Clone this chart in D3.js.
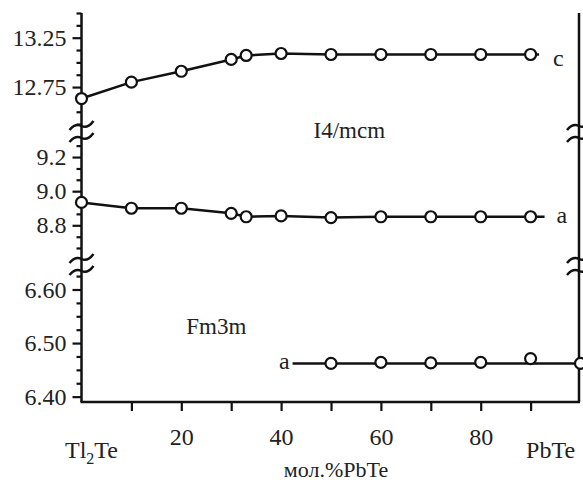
<!DOCTYPE html>
<html>
<head>
<meta charset="utf-8">
<script src="https://cdn.jsdelivr.net/npm/d3@7"></script>
<style>
  body { margin: 0; background: #fff; }
  text { font-family: "Liberation Serif", "DejaVu Serif", serif; fill: #222; }
</style>
</head>
<body>
<div id="chart"></div>
<script>
// Lattice parameters of Tl2Te-PbTe alloys
const compX = [0, 10, 20, 30, 33, 40, 50, 60, 70, 80, 90];
const cTetragonal = [12.634, 12.80, 12.91, 13.03, 13.07, 13.09, 13.08, 13.08, 13.08, 13.08, 13.08];
const aTetragonal = [8.934, 8.90, 8.90, 8.87, 8.85, 8.855, 8.845, 8.85, 8.85, 8.85, 8.85];
const cubicX = [50, 60, 70, 80, 90, 100];
const aCubic = [6.462, 6.464, 6.463, 6.464, 6.471, 6.462];

// where the drawn lines run past the first/last points
const cTailX = 91.7;
const aTailX = 92.8;
const cubicStartX = 42.3;

const xTicks = [10, 20, 30, 40, 50, 60, 70, 80, 90];
const xLabels = [20, 40, 60, 80];

const topMajor = [13.25, 12.75];
const topMinor = [12.375, 12.5, 12.625, 12.875, 13.0, 13.125, 13.375, 13.5];
const midMajor = [9.2, 9.0, 8.8];
const midMinor = [9.267, 9.133, 9.067, 8.933, 8.867, 8.733, 8.667];
const lowMajor = [6.60, 6.50, 6.40];
const lowMinor = [6.625, 6.575, 6.55, 6.525, 6.475, 6.45, 6.425];

const W = 583, H = 482;
const svg = d3.select('#chart').append('svg')
    .attr('width', W)
    .attr('height', H);

const x = d3.scaleLinear().domain([0, 100]).range([81.5, 580.5]);
const axisTop = 13, axisBottom = 402;

// three stacked y scales for the broken axis
const yTop = d3.scaleLinear().domain([12.285, 13.5]).range([133, 13]);
const yMid = d3.scaleLinear().domain([8.62, 9.3]).range([256, 140]);
const yLow = d3.scaleLinear().domain([6.39, 6.67]).range([402, 252]);

const fontSize = 24;

function drawYAxis(scale, major, minor, fmt) {
    const gMinor = svg.append('g')
        .attr('transform', `translate(${x(0)},0)`)
        .call(d3.axisLeft(scale).tickValues(minor).tickSize(5).tickFormat(''));
    gMinor.select('.domain').remove();
    const g = svg.append('g')
        .attr('transform', `translate(${x(0)},0)`)
        .call(d3.axisLeft(scale).tickValues(major).tickSize(9).tickPadding(6).tickFormat(fmt));
    g.select('.domain').remove();
    [gMinor, g].forEach(s => s.selectAll('line').attr('stroke', '#111').attr('stroke-width', 2.2));
    g.selectAll('text')
        .style('font-family', '"Liberation Serif", serif')
        .style('font-size', fontSize + 'px')
        .attr('fill', '#222');
}
drawYAxis(yTop, topMajor, topMinor, d3.format('.2f'));
drawYAxis(yMid, midMajor, midMinor, d3.format('.1f'));
drawYAxis(yLow, lowMajor, lowMinor, d3.format('.2f'));

// frame lines
svg.append('line')
    .attr('x1', x(0)).attr('x2', x(0))
    .attr('y1', axisTop).attr('y2', axisBottom)
    .attr('stroke', '#111').attr('stroke-width', 2.5);
svg.append('line')
    .attr('x1', x(99.7)).attr('x2', x(99.7))
    .attr('y1', axisTop).attr('y2', axisBottom)
    .attr('stroke', '#111').attr('stroke-width', 2.5);

// bottom axis
const gx = svg.append('g')
    .attr('transform', `translate(0,${axisBottom})`)
    .call(d3.axisBottom(x).tickValues(xTicks).tickSize(9).tickPadding(17)
        .tickFormat(d => xLabels.includes(d) ? d : ''));
gx.select('.domain').remove();
gx.selectAll('line').attr('stroke', '#111').attr('stroke-width', 2.2);
gx.selectAll('text')
    .style('font-family', '"Liberation Serif", serif')
    .style('font-size', fontSize + 'px')
    .attr('fill', '#222');
svg.append('line')
    .attr('x1', x(0) - 1).attr('x2', x(99.7) + 1)
    .attr('y1', axisBottom).attr('y2', axisBottom)
    .attr('stroke', '#111').attr('stroke-width', 2.5);

// end-member labels
const tl = svg.append('text')
    .attr('x', x(2)).attr('y', 458)
    .attr('text-anchor', 'middle')
    .style('font-size', fontSize + 'px');
tl.append('tspan').text('Tl');
tl.append('tspan').attr('dy', 6).style('font-size', '16px').text('2');
tl.append('tspan').attr('dy', -6).text('Te');

svg.append('text')
    .attr('x', x(94)).attr('y', 458)
    .attr('text-anchor', 'middle')
    .style('font-size', fontSize + 'px')
    .text('PbTe');

svg.append('text')
    .attr('x', x(51)).attr('y', 477)
    .attr('text-anchor', 'middle')
    .style('font-size', '22px')
    .text('мол.%PbTe');

// axis break marks
function breakMark(cx, cy) {
    svg.append('path')
        .attr('d', `M${cx - 12},${cy + 4} Q${cx - 6},${cy - 3} ${cx},${cy} T${cx + 12},${cy - 5}`)
        .attr('fill', 'none')
        .attr('stroke', '#111')
        .attr('stroke-width', 2.5);
}
[126, 138, 259, 271].forEach(cy => {
    breakMark(x(0), cy);
    breakMark(x(99.7), cy);
});

// series
const line = d3.line().x(d => x(d[0]));

function drawSeries(xs, ys, scale, linePts) {
    svg.append('path')
        .datum(linePts)
        .attr('d', line.y(d => scale(d[1])))
        .attr('fill', 'none')
        .attr('stroke', '#111')
        .attr('stroke-width', 2.5);
    svg.append('g').selectAll('circle')
        .data(xs.map((v, i) => [v, ys[i]]))
        .enter()
        .append('circle')
        .attr('cx', d => x(d[0]))
        .attr('cy', d => scale(d[1]))
        .attr('r', 5.5)
        .attr('fill', '#fff')
        .attr('stroke', '#111')
        .attr('stroke-width', 2.2);
}

const cPts = compX.map((v, i) => [v, cTetragonal[i]]);
cPts.push([cTailX, cTetragonal[cTetragonal.length - 1]]);
drawSeries(compX, cTetragonal, yTop, cPts);

const aPts = compX.map((v, i) => [v, aTetragonal[i]]);
aPts.push([aTailX, aTetragonal[aTetragonal.length - 1]]);
drawSeries(compX, aTetragonal, yMid, aPts);

const cubPts = [[cubicStartX, aCubic[0]], [100, aCubic[0]]];
drawSeries(cubicX, aCubic, yLow, cubPts);

// curve labels
svg.append('text')
    .attr('x', x(cTailX) + 14).attr('y', yTop(13.08) + 12)
    .style('font-size', fontSize + 'px').text('c');
svg.append('text')
    .attr('x', x(aTailX) + 12).attr('y', yMid(8.85) + 6)
    .style('font-size', fontSize + 'px').text('a');
svg.append('text')
    .attr('x', x(cubicStartX) - 3).attr('y', yLow(6.462) + 6)
    .attr('text-anchor', 'end')
    .style('font-size', fontSize + 'px').text('a');

// phase labels
svg.append('text')
    .attr('x', x(46.5)).attr('y', 138)
    .style('font-size', '23px').text('I4/mcm');
svg.append('text')
    .attr('x', x(21)).attr('y', 334)
    .style('font-size', '23px').text('Fm3m');
</script>
</body>
</html>
